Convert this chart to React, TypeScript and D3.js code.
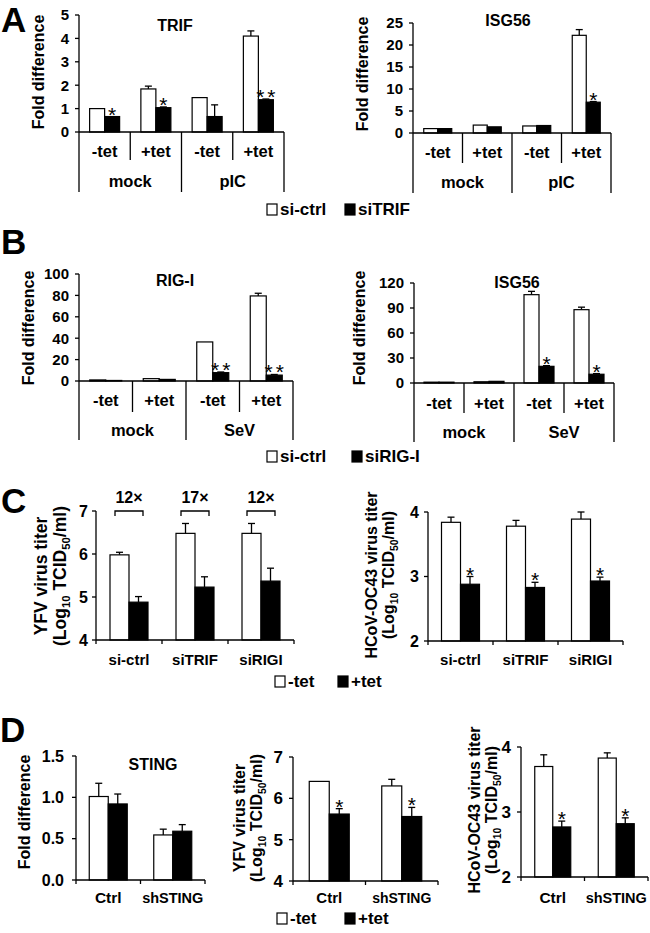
import React from 'react';
import * as d3 from 'd3';

const FONT = '"Liberation Sans", Arial, Helvetica, sans-serif';

// ---- Panel A / B categories
const tetLabels = ['-tet', '+tet', '-tet', '+tet'];
const groupsA = ['mock', 'pIC'];
const groupsB = ['mock', 'SeV'];

// A: TRIF
const trifCtrl = [1.0, 1.84, 1.47, 4.1];
const trifCtrlErr = [0, 0.12, 0, 0.22];
const trifSi = [0.66, 1.04, 0.66, 1.38];
const trifSiErr = [0, 0.03, 0.5, 0.03];
const trifStars = ['*', '*', '', '**'];

// A: ISG56
const isgACtrl = [1.0, 1.8, 1.6, 22.2];
const isgACtrlErr = [0, 0, 0, 1.3];
const isgASi = [1.0, 1.4, 1.7, 7.0];
const isgASiErr = [0, 0, 0, 0.15];
const isgAStars = ['', '', '', '*'];

// B: RIG-I
const rigCtrl = [1.0, 2.2, 36.5, 79.5];
const rigCtrlErr = [0, 0, 0, 2.5];
const rigSi = [0.5, 1.5, 7.8, 5.5];
const rigSiErr = [0, 0, 0.6, 0.6];
const rigStars = ['', '', '**', '**'];

// B: ISG56
const isgBCtrl = [1.0, 1.5, 106, 88];
const isgBCtrlErr = [0, 0, 4, 3];
const isgBSi = [1.0, 2.0, 20, 10.5];
const isgBSiErr = [0, 0, 0.8, 0.8];
const isgBStars = ['', '', '*', '*'];

// C
const cCats = ['si-ctrl', 'siTRIF', 'siRIGI'];
const yfvMinus = [5.98, 6.48, 6.48];
const yfvMinusErr = [0.06, 0.23, 0.23];
const yfvPlus = [4.88, 5.23, 5.37];
const yfvPlusErr = [0.13, 0.24, 0.3];
const yfvFold = ['12×', '17×', '12×'];
const ocMinus = [3.84, 3.78, 3.89];
const ocMinusErr = [0.08, 0.09, 0.11];
const ocPlus = [2.88, 2.83, 2.93];
const ocPlusErr = [0.12, 0.08, 0.06];
const ocStars = ['*', '*', '*'];

// D
const dCats = ['Ctrl', 'shSTING'];
const stingMinus = [1.01, 0.545];
const stingMinusErr = [0.16, 0.07];
const stingPlus = [0.92, 0.59];
const stingPlusErr = [0.12, 0.08];
const dYfvMinus = [6.41, 6.3];
const dYfvMinusErr = [0, 0.16];
const dYfvPlus = [5.62, 5.56];
const dYfvPlusErr = [0.13, 0.22];
const dOcMinus = [3.7, 3.83];
const dOcMinusErr = [0.18, 0.08];
const dOcPlus = [2.77, 2.82];
const dOcPlusErr = [0.09, 0.09];
const dStars = ['*', '*'];

interface BarsProps {
  x0: number; x1: number; yTop: number; yBot: number;
  domain: [number, number];
  ticks: number[];
  fmt?: (v: number) => string;
  tickFont: number;
  labelGap: number;
  white: number[]; whiteErr: number[];
  black: number[]; blackErr: number[];
  stars?: string[];
  barW: number;
}

function Bars(p: BarsProps) {
  const n = p.white.length;
  const x = d3.scaleBand<number>().domain(d3.range(n)).range([p.x0, p.x1]).padding(0);
  const inner = d3.scaleBand<string>().domain(['w', 'b']).range([0, 2 * p.barW]);
  const y = d3.scaleLinear().domain(p.domain).range([p.yBot, p.yTop]);
  const fmt = p.fmt || ((v: number) => String(v));
  const left = (i: number) => (x(i) as number) + x.bandwidth() / 2 - p.barW;
  const series = [
    { key: 'w', vals: p.white, errs: p.whiteErr, fill: '#fff' },
    { key: 'b', vals: p.black, errs: p.blackErr, fill: '#000' },
  ];
  return (
    <g>
      {series.map(s => s.vals.map((v, i) => {
        const bx = left(i) + (inner(s.key) as number);
        const cx = bx + inner.bandwidth() / 2;
        const e = s.errs[i];
        return (
          <g key={s.key + i}>
            {e > 0 && (
              <g stroke="#000" strokeWidth={1.3}>
                <line x1={cx} x2={cx} y1={y(v)} y2={y(v + e)} />
                <line x1={cx - 3.5} x2={cx + 3.5} y1={y(v + e)} y2={y(v + e)} />
              </g>
            )}
            <rect x={bx} y={y(v)} width={inner.bandwidth()} height={p.yBot - y(v)}
              fill={s.fill} stroke="#000" strokeWidth={1.2} />
          </g>
        );
      }))}
      {p.stars && p.stars.map((st, i) => st ? (
        <text key={'s' + i}
          x={left(i) + (inner('b') as number) + inner.bandwidth() / 2 + (st.length > 1 ? 1.5 : 0)}
          y={y(p.black[i] + p.blackErr[i]) + 5}
          textAnchor="middle" fontSize={21} fontWeight="normal" letterSpacing={st.length > 1 ? 3 : 0}>
          {st}
        </text>
      ) : null)}
      {/* y axis */}
      <line x1={p.x0} x2={p.x0} y1={p.yTop} y2={p.yBot} stroke="#000" strokeWidth={1.3} />
      {p.ticks.map(t => (
        <g key={'t' + t}>
          <line x1={p.x0 - 4} x2={p.x0} y1={y(t)} y2={y(t)} stroke="#000" strokeWidth={1.3} />
          <text x={p.x0 - p.labelGap} y={y(t)} dy="0.36em" textAnchor="end" fontSize={p.tickFont}>{fmt(t)}</text>
        </g>
      ))}
      <line x1={p.x0} x2={p.x1} y1={p.yBot} y2={p.yBot} stroke="#000" strokeWidth={1.3} />
    </g>
  );
}

interface HierAxisProps {
  x0: number; x1: number; yBot: number;
  innerBottom: number; outerBottom: number;
  subY: number; groupY: number;
  subs: string[]; groups: string[];
}

function HierAxis(p: HierAxisProps) {
  const xs = d3.scaleBand<number>().domain(d3.range(p.subs.length)).range([p.x0, p.x1]);
  const xg = d3.scaleBand<number>().domain(d3.range(p.groups.length)).range([p.x0, p.x1]);
  const edges = d3.range(p.subs.length + 1).map(i => p.x0 + i * xs.bandwidth());
  return (
    <g>
      {edges.map((ex, i) => {
        const outer = i % 2 === 0;
        return <line key={'e' + i} x1={ex} x2={ex} y1={p.yBot} y2={outer ? p.outerBottom : p.innerBottom}
          stroke="#000" strokeWidth={1.3} />;
      })}
      {p.subs.map((s, i) => (
        <text key={'sl' + i} x={(xs(i) as number) + xs.bandwidth() / 2} y={p.subY}
          textAnchor="middle" fontSize={16.5}>{s}</text>
      ))}
      {p.groups.map((g, i) => (
        <text key={'gl' + i} x={(xg(i) as number) + xg.bandwidth() / 2} y={p.groupY}
          textAnchor="middle" fontSize={16.5}>{g}</text>
      ))}
    </g>
  );
}

interface SimpleAxisProps {
  x0: number; x1: number; yBot: number; labelY: number; cats: string[]; font: number;
}

function SimpleAxis(p: SimpleAxisProps) {
  const x = d3.scaleBand<number>().domain(d3.range(p.cats.length)).range([p.x0, p.x1]);
  const edges = d3.range(p.cats.length + 1).map(i => p.x0 + i * x.bandwidth());
  return (
    <g>
      {edges.map((ex, i) => (
        <line key={'e' + i} x1={ex} x2={ex} y1={p.yBot} y2={p.yBot + 4} stroke="#000" strokeWidth={1.3} />
      ))}
      {p.cats.map((c, i) => (
        <text key={'c' + i} x={(x(i) as number) + x.bandwidth() / 2} y={p.labelY}
          textAnchor="middle" fontSize={c.length > 5 ? p.font - 1 : p.font}>{c}</text>
      ))}
    </g>
  );
}

function YLabel({ x, y, text, size = 16 }: { x: number; y: number; text: string; size?: number }) {
  return (
    <text transform={`translate(${x},${y}) rotate(-90)`} dy="0.36em" textAnchor="middle" fontSize={size}>{text}</text>
  );
}

function TiterLabel({ x, y, line1, size = 16 }: { x: number; y: number; line1: string; size?: number }) {
  return (
    <g>
      <text transform={`translate(${x},${y}) rotate(-90)`} dy="0.36em" textAnchor="middle" fontSize={size}>{line1}</text>
      <text transform={`translate(${x + size * 1.08},${y}) rotate(-90)`} dy="0.36em" textAnchor="middle" fontSize={size}>
        (Log<tspan dy={4} fontSize={size * 0.65}>10</tspan><tspan dy={-4}> TCID</tspan>
        <tspan dy={4} fontSize={size * 0.65}>50</tspan><tspan dy={-4}>/ml)</tspan>
      </text>
    </g>
  );
}

function LegendItem({ x, y, fill, label }: { x: number; y: number; fill: string; label: string }) {
  return (
    <g>
      <rect x={x} y={y - 11} width={10} height={11} fill={fill} stroke="#000" strokeWidth={1.2} />
      <text x={x + 13} y={y} fontSize={17}>{label}</text>
    </g>
  );
}

function PanelLetter({ x, y, l }: { x: number; y: number; l: string }) {
  return <text x={x} y={y} fontSize={35}>{l}</text>;
}

export default function App() {
  const int = (v: number) => d3.format('d')(v);
  const one = (v: number) => d3.format('.1f')(v);
  return (
    <svg width={650} height={933} style={{ position: 'absolute', left: 0, top: 0, background: '#fff' }}
      fontFamily={FONT} fontWeight="bold">
      <rect width={650} height={933} fill="#fff" />

      {/* ===== A ===== */}
      <PanelLetter x={1} y={32} l="A" />
      <Bars x0={79} x1={284} yTop={15} yBot={132} domain={[0, 5]} ticks={[0, 1, 2, 3, 4, 5]} fmt={int}
        tickFont={15} labelGap={10} barW={15}
        white={trifCtrl} whiteErr={trifCtrlErr} black={trifSi} blackErr={trifSiErr} stars={trifStars} />
      <HierAxis x0={79} x1={284} yBot={132} innerBottom={160} outerBottom={192} subY={157} groupY={187}
        subs={tetLabels} groups={groupsA} />
      <text x={175} y={31} textAnchor="middle" fontSize={16}>TRIF</text>
      <YLabel x={38} y={72} text="Fold difference" />

      <Bars x0={413} x1={611} yTop={23} yBot={133} domain={[0, 25]} ticks={[0, 5, 10, 15, 20, 25]} fmt={int}
        tickFont={15} labelGap={10} barW={14}
        white={isgACtrl} whiteErr={isgACtrlErr} black={isgASi} blackErr={isgASiErr} stars={isgAStars} />
      <HierAxis x0={413} x1={611} yBot={133} innerBottom={163} outerBottom={193} subY={158} groupY={188}
        subs={tetLabels} groups={groupsA} />
      <text x={508} y={26} textAnchor="middle" fontSize={16}>ISG56</text>
      <YLabel x={362} y={74} text="Fold difference" />

      <LegendItem x={267} y={215} fill="#fff" label="si-ctrl" />
      <LegendItem x={345} y={215} fill="#000" label="siTRIF" />

      {/* ===== B ===== */}
      <PanelLetter x={1} y={254} l="B" />
      <Bars x0={79} x1={293} yTop={274} yBot={381} domain={[0, 100]} ticks={[0, 20, 40, 60, 80, 100]} fmt={int}
        tickFont={15} labelGap={10} barW={16}
        white={rigCtrl} whiteErr={rigCtrlErr} black={rigSi} blackErr={rigSiErr} stars={rigStars} />
      <HierAxis x0={79} x1={293} yBot={381} innerBottom={412} outerBottom={440} subY={406} groupY={436}
        subs={tetLabels} groups={groupsB} />
      <text x={175} y={286} textAnchor="middle" fontSize={16}>RIG-I</text>
      <YLabel x={28} y={328} text="Fold difference" />

      <Bars x0={414} x1={614} yTop={283} yBot={383} domain={[0, 120]} ticks={[0, 30, 60, 90, 120]} fmt={int}
        tickFont={15} labelGap={10} barW={15}
        white={isgBCtrl} whiteErr={isgBCtrlErr} black={isgBSi} blackErr={isgBSiErr} stars={isgBStars} />
      <HierAxis x0={414} x1={614} yBot={383} innerBottom={413} outerBottom={442} subY={409} groupY={438}
        subs={tetLabels} groups={groupsB} />
      <text x={517} y={288} textAnchor="middle" fontSize={16}>ISG56</text>
      <YLabel x={359} y={328} text="Fold difference" />

      <LegendItem x={267} y={462} fill="#fff" label="si-ctrl" />
      <LegendItem x={352} y={462} fill="#000" label="siRIG-I" />

      {/* ===== C ===== */}
      <PanelLetter x={1} y={513} l="C" />
      <Bars x0={96} x1={294} yTop={511} yBot={640} domain={[4, 7]} ticks={[4, 5, 6, 7]} fmt={int}
        tickFont={16} labelGap={8} barW={19}
        white={yfvMinus} whiteErr={yfvMinusErr} black={yfvPlus} blackErr={yfvPlusErr} />
      <SimpleAxis x0={96} x1={294} yBot={640} labelY={665} cats={cCats} font={16} />
      {(() => {
        const x = d3.scaleBand<number>().domain(d3.range(cCats.length)).range([96, 294]);
        return yfvFold.map((f, i) => {
          const c = (x(i) as number) + x.bandwidth() / 2;
          return (
            <g key={'f' + i}>
              <path d={`M${c - 14},516V511H${c + 14}V516`} fill="none" stroke="#000" strokeWidth={1.3} />
              <text x={c} y={503} textAnchor="middle" fontSize={16}>{f}</text>
            </g>
          );
        });
      })()}
      <TiterLabel x={41} y={576} line1="YFV virus titer" size={17.5} />

      <Bars x0={428} x1={623} yTop={512} yBot={641} domain={[2, 4]} ticks={[2, 3, 4]} fmt={int}
        tickFont={16} labelGap={9} barW={19}
        white={ocMinus} whiteErr={ocMinusErr} black={ocPlus} blackErr={ocPlusErr} stars={ocStars} />
      <SimpleAxis x0={428} x1={623} yBot={641} labelY={665} cats={cCats} font={16} />
      <TiterLabel x={371} y={575} line1="HCoV-OC43 virus titer" />

      <LegendItem x={275} y={687} fill="#fff" label="-tet" />
      <LegendItem x={338} y={687} fill="#000" label="+tet" />

      {/* ===== D ===== */}
      <PanelLetter x={0} y={742} l="D" />
      <Bars x0={76} x1={205} yTop={756} yBot={880} domain={[0, 1.5]} ticks={[0, 0.5, 1, 1.5]} fmt={one}
        tickFont={16} labelGap={12} barW={19}
        white={stingMinus} whiteErr={stingMinusErr} black={stingPlus} blackErr={stingPlusErr} />
      <SimpleAxis x0={76} x1={205} yBot={880} labelY={903} cats={dCats} font={15.5} />
      <text x={153} y={770} textAnchor="middle" fontSize={16}>STING</text>
      <YLabel x={24} y={812} text="Fold difference" />

      <Bars x0={293} x1={438} yTop={757} yBot={881} domain={[4, 7]} ticks={[4, 5, 6, 7]} fmt={int}
        tickFont={17} labelGap={10} barW={20}
        white={dYfvMinus} whiteErr={dYfvMinusErr} black={dYfvPlus} blackErr={dYfvPlusErr} stars={dStars} />
      <SimpleAxis x0={293} x1={438} yBot={881} labelY={903} cats={dCats} font={15} />
      <TiterLabel x={239} y={818} line1="YFV virus titer" />

      <Bars x0={521} x1={648} yTop={747} yBot={877} domain={[2, 4]} ticks={[2, 3, 4]} fmt={int}
        tickFont={17} labelGap={10} barW={18}
        white={dOcMinus} whiteErr={dOcMinusErr} black={dOcPlus} blackErr={dOcPlusErr} stars={dStars} />
      <SimpleAxis x0={521} x1={648} yBot={877} labelY={903} cats={dCats} font={15.5} />
      <TiterLabel x={474} y={810} line1="HCoV-OC43 virus titer" />

      <LegendItem x={277} y={924} fill="#fff" label="-tet" />
      <LegendItem x={345} y={924} fill="#000" label="+tet" />
    </svg>
  );
}
